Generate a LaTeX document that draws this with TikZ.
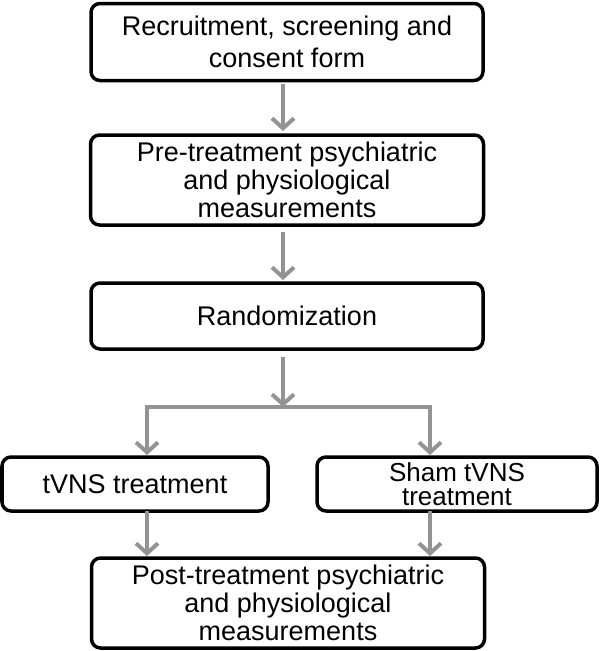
\documentclass[tikz,border=0pt]{standalone}
\usepackage{fontspec}
\setmainfont{Liberation Sans}
\usetikzlibrary{arrows.meta}
\begin{document}
\begin{tikzpicture}[x=1pt,y=-1pt,
  box/.style={draw,line width=3.5pt,rounded corners=9pt,align=center,inner sep=0pt,font=\fontsize{27}{28}\selectfont},
  arr/.style={draw=gray!85,line width=4.5pt,-{Straight Barb[length=10pt,width=22pt,line width=4pt]}},
  ln/.style={draw=gray!85,line width=4.5pt}]
\useasboundingbox (0,0) rectangle (600,651);
\node[box,minimum width=392pt,minimum height=77pt,font=\fontsize{27}{32}\selectfont] (a) at (287,42) {Recruitment, screening and\\consent form};
\node[box,minimum width=393pt,minimum height=90pt] (b) at (287,180) {Pre-treatment psychiatric\\and physiological\\measurements};
\node[box,minimum width=392pt,minimum height=66pt] (c) at (287,316) {Randomization};
\node[box,minimum width=266pt,minimum height=54pt] (d) at (135,484) {tVNS treatment};
\node[box,minimum width=280pt,minimum height=54pt,font=\fontsize{26}{24}\selectfont] (e) at (457,484) {Sham tVNS\\treatment};
\node[box,minimum width=393pt,minimum height=90pt] (f) at (288,603) {Post-treatment psychiatric\\and physiological\\measurements};
\coordinate (j) at (283,407);
\coordinate (jl) at (147,407);
\coordinate (jr) at (430,407);
\draw[arr] (283,84) -- (283,131);
\draw[arr] (283,232) -- (283,280);
\draw[arr] (283,357) -- (j);
\draw[ln] ([xshift=-2pt]jl) -- ([xshift=2pt]jr);
\draw[arr] (jl) -- (147,455);
\draw[arr] (jr) -- (430,455);
\draw[arr] (147,511) -- (147,556);
\draw[arr] (430,511) -- (430,556);
\end{tikzpicture}
\end{document}
